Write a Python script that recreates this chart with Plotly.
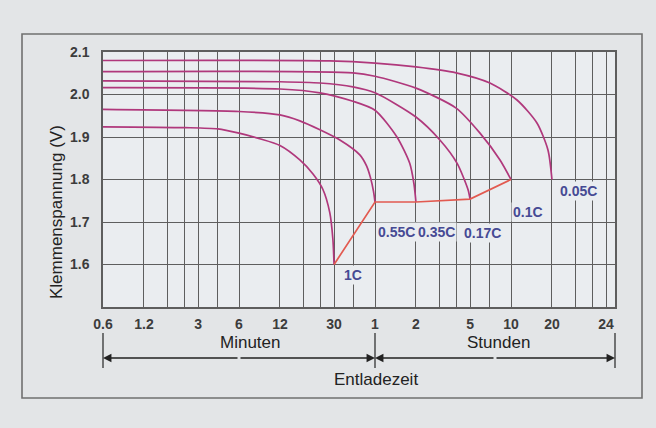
import numpy as np
import plotly.graph_objects as go

# ---------------- data (time in minutes, voltage in V) ----------------
t_1C = [0.6, 2.4, 4.2, 6.0, 8.5, 12.0, 16.8, 21.0, 24.8, 27.9, 29.4, 30.0]
v_1C = [1.924, 1.922, 1.919, 1.909, 1.896, 1.880, 1.846, 1.813, 1.777, 1.722, 1.660, 1.600]

t_055C = [0.6, 6.0, 12.0, 16.8, 23.6, 33.1, 46.4, 52.0, 55.5, 58.5, 60.0]
v_055C = [1.965, 1.960, 1.952, 1.938, 1.917, 1.893, 1.858, 1.832, 1.805, 1.772, 1.747]

t_035C = [0.6, 12.0, 23.6, 41.3, 60.0, 87.0, 108.0, 116.0, 120.0]
v_035C = [2.016, 2.013, 2.004, 1.984, 1.963, 1.900, 1.838, 1.790, 1.747]

t_017C = [0.6, 12.0, 23.6, 41.3, 60.0, 120.0, 180.0, 241.0, 290.0, 300.0]
v_017C = [2.032, 2.030, 2.027, 2.018, 2.004, 1.947, 1.893, 1.838, 1.776, 1.754]

t_01C = [0.6, 41.3, 60.0, 120.0, 237.0, 355.0, 498.0, 600.0]
v_01C = [2.054, 2.051, 2.043, 2.015, 1.968, 1.909, 1.846, 1.800]

t_005C = [0.6, 27.9, 60.0, 120.0, 237.0, 420.0, 664.0, 931.0, 1123.0, 1200.0]
v_005C = [2.080, 2.079, 2.074, 2.065, 2.051, 2.027, 1.987, 1.933, 1.869, 1.800]

# end-of-discharge line
t_end = [30.0, 60.0, 120.0, 300.0, 600.0]
v_end = [1.600, 1.747, 1.747, 1.754, 1.800]

curve_names = ["1C", "0.55C", "0.35C", "0.17C", "0.1C", "0.05C"]
curve_t = [t_1C, t_055C, t_035C, t_017C, t_01C, t_005C]
curve_v = [v_1C, v_055C, v_035C, v_017C, v_01C, v_005C]

# label anchor points (minutes, volts)
label_t = [41.3, 86.4, 171.0, 371.0, 800.0, 1868.0]
label_v = [1.575, 1.677, 1.677, 1.674, 1.724, 1.774]

# axis ticks
x_tickvals = [0.6, 1.2, 3, 6, 12, 30, 60, 120, 300, 600, 1200, 3000]
x_ticktext = ["0.6", "1.2", "3", "6", "12", "30", "1", "2", "5", "10", "20", "24"]
x_minor_grid = [1.8, 2.4, 4.2, 18, 24, 42, 180, 240, 420, 1800, 2400]
y_tickvals = [1.6, 1.7, 1.8, 1.9, 2.0, 2.1]

# ---------------- styling ----------------
CURVE = "#b0387c"
RED = "#e25a50"
GRID = "#5e5e5e"
LABEL = "#464a94"
PAPER = "#e3e5e7"
PLOTBG = "#eaedf0"
FONT = "Liberation Sans, Arial, sans-serif"

W, H = 656, 428
L, R, T, B = 103, 41, 52, 121
PW, PH = W - L - R, H - T - B


def px(xp):
    return (xp - L) / PW


def py(yp):
    return (H - B - yp) / PH


fig = go.Figure()

for t, v in zip(curve_t, curve_v):
    fig.add_trace(go.Scatter(x=t, y=v, mode="lines",
                             line=dict(color=CURVE, width=1.7, shape="spline", smoothing=0.7),
                             hoverinfo="skip", showlegend=False))

fig.add_trace(go.Scatter(x=t_end, y=v_end, mode="lines",
                         line=dict(color=RED, width=1.7),
                         hoverinfo="skip", showlegend=False))

annotations = []
for name, lt, lv in zip(curve_names, label_t, label_v):
    annotations.append(dict(x=np.log10(lt), y=lv, xref="x", yref="y", text=name,
                            xanchor="center", yanchor="middle",
                            showarrow=False,
                            font=dict(family=FONT, size=14, color=LABEL, weight="bold"),
                            bgcolor=PLOTBG, borderpad=1))

TXT = dict(family=FONT, size=17, color="#222222")
# axis title and bottom texts
annotations.append(dict(x=px(56), y=py(212), xref="paper", yref="paper",
                        xanchor="center", yanchor="middle",
                        text="Klemmenspannung (V)", textangle=-90, showarrow=False,
                        font=dict(family=FONT, size=17, color="#222222")))
annotations.append(dict(x=px(250), y=py(342), xref="paper", yref="paper", text="Minuten",
                        xanchor="center", yanchor="middle", showarrow=False, font=TXT))
annotations.append(dict(x=px(498), y=py(342), xref="paper", yref="paper", text="Stunden",
                        xanchor="center", yanchor="middle", showarrow=False, font=TXT))
annotations.append(dict(x=px(376), y=py(380), xref="paper", yref="paper", text="Entladezeit",
                        xanchor="center", yanchor="middle", showarrow=False, font=TXT))

# double arrows
arrow_y = py(358)
for tip, off in [(103, 136), (375, -136), (375, 120), (615, -120)]:
    annotations.append(dict(x=px(tip), y=arrow_y, xref="paper", yref="paper", text="",
                            showarrow=True, ax=off, ay=0, arrowhead=2, arrowsize=1.3,
                            arrowwidth=1.3, arrowcolor="#222222"))

shapes = []
for xb in [103, 375, 615]:
    shapes.append(dict(type="line", xref="paper", yref="paper", x0=px(xb), x1=px(xb),
                       y0=py(333), y1=py(368), line=dict(color="#333333", width=1.3)))
# outer frame
shapes.append(dict(type="rect", xref="paper", yref="paper", x0=px(22), x1=px(642),
                   y0=py(398), y1=py(34), line=dict(color="#707070", width=1.6),
                   layer="below"))

fig.update_layout(
    width=W, height=H,
    margin=dict(l=L, r=R, t=T, b=B, pad=0),
    paper_bgcolor=PAPER, plot_bgcolor=PLOTBG,
    showlegend=False,
    annotations=annotations, shapes=shapes,
    font=dict(family=FONT, color="#333333"),
)

TICKFONT = dict(family=FONT, size=14, color="#3c3c3c", weight="bold")
fig.update_xaxes(
    type="log", range=[np.log10(0.6), np.log10(3490)],
    tickmode="array", tickvals=x_tickvals, ticktext=x_ticktext,
    showgrid=True, gridcolor=GRID, gridwidth=1.4,
    minor=dict(tickmode="array", tickvals=x_minor_grid, showgrid=True,
               gridcolor=GRID, gridwidth=1.4, ticks=""),
    showline=True, linecolor=GRID, linewidth=1.5, mirror=True,
    ticks="", ticklabelstandoff=3,
    tickfont=TICKFONT,
    zeroline=False, fixedrange=True,
)
fig.update_yaxes(
    range=[1.5, 2.1], tickmode="array", tickvals=y_tickvals, tickformat=".1f",
    showgrid=True, gridcolor=GRID, gridwidth=1.4,
    showline=True, linecolor=GRID, linewidth=1.5, mirror=True,
    ticks="", ticklabelstandoff=9,
    tickfont=TICKFONT,
    zeroline=False, fixedrange=True,
)

fig.write_html("out.html")
